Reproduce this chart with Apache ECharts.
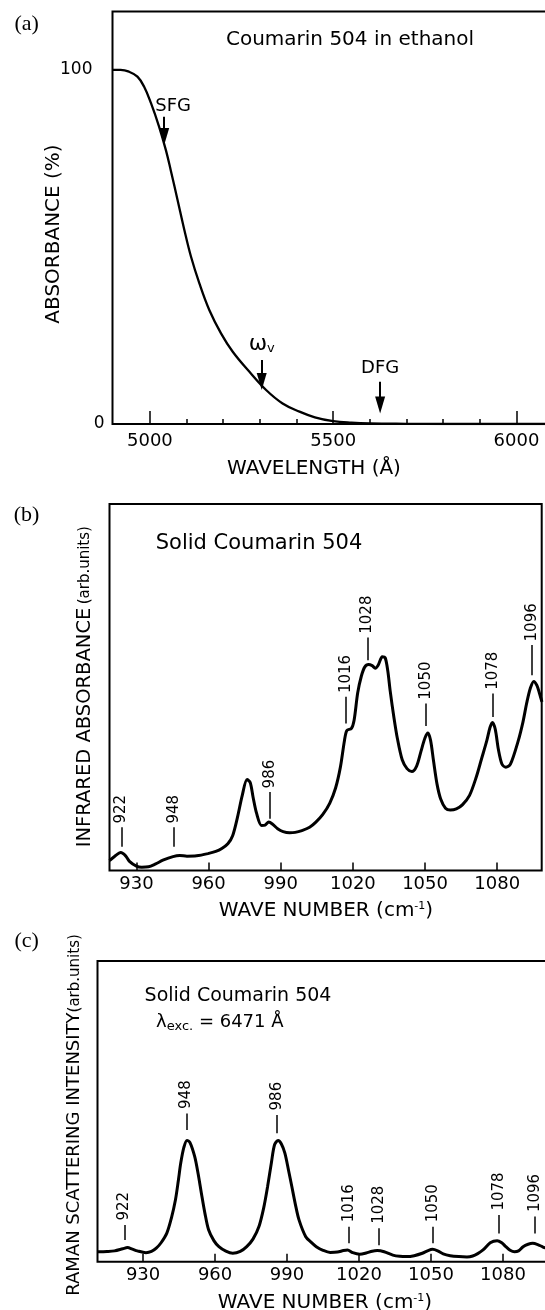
<!DOCTYPE html>
<html>
<head>
<meta charset="utf-8">
<script src="https://cdn.jsdelivr.net/npm/echarts@6/dist/echarts.min.js"></script>
<style>
  html, body { margin: 0; padding: 0; background: #fff; }
  #chart { width: 545px; height: 1310px; }
</style>
</head>
<body>
<div id="chart"></div>
<script>
// (a) absorbance of Coumarin 504 in ethanol
const absWavelength = [4898, 4920, 4943, 4966, 4984, 5003, 5025, 5044, 5057, 5075, 5094, 5112, 5135, 5162,
  5194, 5226, 5271, 5317, 5362, 5408, 5450, 5500, 5550, 5600, 5700, 5800, 6000, 6105];
const absPercent = [100, 100, 99.5, 98.1, 95.3, 90.6, 84, 77.2, 71.6, 63.5, 54.8, 47.3, 39.7, 32.2,
  25.6, 20.4, 14.8, 9.6, 5.8, 3.5, 1.9, 0.8, 0.35, 0.15, 0.05, 0, 0, 0];
const absMarkers = ['SFG', 'ωv', 'DFG'];
const absMarkerX = [5039, 5305, 5628];
const absMarkerTop = [86.8, 18.1, 11.9];
const absMarkerTip = [78.8, 9.6, 3.0];
const wavelengthMajor = [5000, 5500, 6000];
const wavelengthMinor = [5100, 5200, 5300, 5400, 5600, 5700, 5800, 5900];
const absTicks = [0, 100];

// (b) infrared absorbance, solid
const irWavenumber = [918.8, 921, 923.5, 925.5, 927.1, 930, 932.2, 935, 938, 941, 945.2, 948, 951, 955,
  959.7, 963, 965.5, 968, 970, 972, 974, 976, 977.3, 978.5, 980, 982, 983.5, 985, 986.5, 988.7,
  991, 993.7, 996, 998.8, 1002, 1004.6, 1007.5, 1010.4, 1012.8, 1014.8, 1016.5, 1017.5, 1019.4, 1020.5,
  1022, 1023.5, 1024.9, 1026.5, 1028, 1029.3, 1030.5, 1032.2, 1033.4, 1034.5, 1035.5, 1037, 1038.5,
  1040.5, 1042.5, 1044.5, 1046.5, 1048.3, 1050, 1051.2, 1052.3, 1053.5, 1055, 1056.5, 1058.5, 1060.5,
  1063, 1065.5, 1068.5, 1071.3, 1073.5, 1075.7, 1077, 1078, 1079.2, 1080.5, 1082, 1083.6, 1085.5,
  1088.7, 1090.7, 1092.3, 1093.8, 1095.2, 1096.5, 1097.5, 1098.6];
const irAbsorbance = [2.7, 3.9, 4.9, 4.0, 2.5, 1.2, 0.9, 1.0, 1.8, 2.8, 3.8, 4.1, 3.9, 4.0,
  4.6, 5.2, 6.0, 7.3, 9.5, 14.5, 20.5, 24.8, 24.0, 20, 15.5, 12.3, 12.4, 13.2, 12.7, 11.4,
  10.6, 10.3, 10.4, 10.9, 11.8, 13.2, 15.3, 18.4, 22.5, 28.2, 35.5, 38.2, 38.8, 41,
  48.5, 53, 55.5, 56.2, 55.9, 55.2, 56, 58.3, 58.1, 54.5, 49, 42, 36,
  30.2, 27.8, 27.0, 28.5, 32.5, 36.2, 37.5, 35.5, 30, 23.5, 19.5, 17, 16.5,
  16.8, 17.9, 20.5, 25.5, 30.5, 35.5, 39, 40.4, 38.5, 33, 29, 28.2, 29,
  35.3, 40.5, 45.8, 49.8, 51.6, 50.5, 48.5, 46];

// (c) Raman scattering, solid, 6471 A excitation
const ramanWavenumber = [911, 915, 918.1, 921.5, 923.5, 925.5, 927.6, 931.2, 933.5, 935.5, 937.5, 939.9,
  941.8, 943.5, 944.7, 945.7, 947, 948.3, 949.5, 951.5, 953, 954.3, 955.8, 957.3, 959.5, 961.6, 964.5,
  967.4, 970.5, 973.2, 975.8, 978.3, 980.3, 981.9, 983.5, 984.8, 986.3, 987.6, 989.1, 990.6, 992,
  993.5, 995, 997.8, 1000, 1002.2, 1005, 1008, 1011, 1013.5, 1015.2, 1017.4, 1020.3, 1023, 1025.5,
  1027.6, 1030.5, 1034.1, 1037, 1039.9, 1043, 1046.4, 1048.8, 1050.7, 1052.8, 1055.1, 1058, 1061.6,
  1065, 1067.4, 1069.5, 1071.7, 1074.7, 1077.6, 1079.5, 1081.2, 1083, 1084.8, 1086.5, 1088.4, 1090.5,
  1092.4, 1094.5, 1096.4, 1098.5, 1101.7];
const ramanIntensity = [3.3, 3.4, 3.6, 4.3, 4.7, 4.2, 3.6, 3.0, 3.4, 4.5, 6.3, 9.5,
  14.5, 20.6, 27, 32.8, 38, 40.3, 39.7, 35, 29, 22.8, 16, 10.6, 7, 5, 3.5,
  2.8, 3.4, 5, 7.5, 11.7, 18, 25, 33, 38.9, 40.3, 39.2, 36.1, 30.5, 25,
  19, 13.9, 8.3, 6.5, 5, 3.8, 3.1, 3.2, 3.7, 3.9, 3.0, 2.5, 2.9, 3.5,
  3.7, 3.3, 2.2, 1.8, 1.7, 2.0, 2.8, 3.7, 4.1, 3.6, 2.6, 2.0, 1.7,
  1.6, 1.9, 2.7, 3.9, 6.3, 7.0, 6.3, 5.0, 3.8, 3.3, 3.6, 5.0, 5.8,
  6.1, 5.7, 5.0, 4.4, 4.0];

// peak assignments (same set in both spectra)
const peakLabels = ['922', '948', '986', '1016', '1028', '1050', '1078', '1096'];
const irPeakX = [923.7, 945.5, 985.4, 1017.2, 1026, 1050.3, 1078.3, 1094.4];
const irPeakLow = [6.5, 6.5, 14.1, 40.1, 57.4, 39.4, 41.9, 53.3];
const irPeakHigh = [11.8, 11.8, 21.4, 47.4, 63.6, 45.6, 48.3, 61.5];
const ramanPeakX = [922.2, 948.1, 985.8, 1015.7, 1028.3, 1050.7, 1078.3, 1093.3];
const ramanPeakLow = [7.2, 43.8, 42.7, 6.1, 5.5, 6.1, 9.4, 9.4];
const ramanPeakHigh = [12.2, 49.3, 48.8, 11.6, 11.1, 11.6, 15.5, 15];
const wavenumberTicks = [930, 960, 990, 1020, 1050, 1080];

const FONT = 'DejaVu Sans';
const SERIF = 'Liberation Serif';
const INK = '#000';

const zip = (xs, ys) => xs.map((x, i) => [x, ys[i]]);
const plain = v => String(v);
// the SFG caption sits a little right of / closer to its arrow
const markerLabelOffset = { SFG: [9, 4] };

// panel (a) geometry: the triangle head is centred on the line end, so pull the end
// back by half a head length to leave the tip on the read-off value
const A_HEIGHT = 412.5;
const A_YMAX = 116.5;
const HEAD = [10, 17];
const headShift = (HEAD[1] / 2) * A_YMAX / A_HEIGHT;

function peakLines(xs, lows, highs) {
  return xs.map((x, i) => [{ coord: [x, lows[i]] }, { coord: [x, highs[i]] }]);
}

function peakTexts(xs, highs, gap) {
  return peakLabels.map((t, i) => ({ name: t, value: [xs[i], highs[i] + gap] }));
}

function wnAxis(grid, min, max) {
  return {
    type: 'value', gridIndex: grid, min: min, max: max, position: 'bottom',
    axisLine: { show: false },
    splitLine: { show: false },
    axisTick: { inside: true, length: 8, customValues: wavenumberTicks, lineStyle: { color: INK, width: 1.5 } },
    axisLabel: { customValues: wavenumberTicks, formatter: plain, margin: 5, color: INK, fontSize: 18, fontFamily: FONT }
  };
}

function plainY(grid, max) {
  return {
    type: 'value', gridIndex: grid, min: 0, max: max,
    axisLine: { show: false }, axisTick: { show: false }, axisLabel: { show: false }, splitLine: { show: false }
  };
}

function peakSeries(xAxisIndex, yAxisIndex, xs, lows, highs, gap) {
  return {
    type: 'scatter', xAxisIndex: xAxisIndex, yAxisIndex: yAxisIndex,
    symbolSize: 1, itemStyle: { color: 'rgba(0,0,0,0)', opacity: 1 }, silent: true,
    data: peakTexts(xs, highs, gap),
    label: {
      show: true, position: 'inside', rotate: 90, align: 'left', verticalAlign: 'middle',
      formatter: p => p.name, color: INK, opacity: 1, fontSize: 15, fontFamily: FONT, textBorderWidth: 0
    },
    markLine: {
      silent: true, symbol: ['none', 'none'], animation: false,
      label: { show: false },
      lineStyle: { color: INK, width: 1.5, type: 'solid', opacity: 1 },
      data: peakLines(xs, lows, highs)
    }
  };
}

const option = {
  animation: false,
  backgroundColor: '#fff',
  grid: [
    // panels (a) and (c) run off the right edge of the page
    { left: 112.5, top: 11.5, width: 442.5, height: A_HEIGHT, outerBoundsMode: 'none', show: true, borderColor: INK, borderWidth: 2 },
    { left: 109.5, top: 504, width: 432.2, height: 366.5, outerBoundsMode: 'none', show: true, borderColor: INK, borderWidth: 2 },
    { left: 97.5, top: 961, width: 457.5, height: 300.7, outerBoundsMode: 'none', show: true, borderColor: INK, borderWidth: 2 }
  ],
  xAxis: [
    {
      type: 'value', gridIndex: 0, min: 4898, max: 6105, position: 'bottom',
      axisLine: { show: false }, splitLine: { show: false },
      axisTick: { inside: true, length: 13, customValues: wavelengthMajor, lineStyle: { color: INK, width: 1.5 } },
      axisLabel: { customValues: wavelengthMajor, formatter: plain, margin: 8, color: INK, fontSize: 18, fontFamily: FONT }
    },
    {
      type: 'value', gridIndex: 0, min: 4898, max: 6105, position: 'bottom',
      axisLine: { show: false }, splitLine: { show: false },
      axisTick: { inside: true, length: 5, customValues: wavelengthMinor, lineStyle: { color: INK, width: 1.5 } },
      axisLabel: { show: false }
    },
    wnAxis(1, 918.8, 1098.5),
    wnAxis(2, 911, 1101.7)
  ],
  yAxis: [
    {
      type: 'value', gridIndex: 0, min: 0, max: A_YMAX,
      axisLine: { show: false }, axisTick: { show: false }, splitLine: { show: false },
      axisLabel: {
        customValues: absTicks, margin: 8, color: INK, fontSize: 17, fontFamily: FONT,
        formatter: v => (v === 100 ? '{p|100}' : String(v)),
        rich: { p: { padding: [0, 12, 0, 0], fontSize: 17, fontFamily: FONT, color: INK } }
      }
    },
    plainY(1, 100),
    plainY(2, 100)
  ],
  series: [
    {
      type: 'line', xAxisIndex: 0, yAxisIndex: 0, data: zip(absWavelength, absPercent),
      smooth: 0.4, showSymbol: false, symbol: 'none',
      lineStyle: { color: INK, width: 2.3 },
      markLine: {
        silent: true, animation: false,
        lineStyle: { color: INK, width: 2, type: 'solid' },
        label: {
          show: true, position: 'start', distance: 5, color: INK, fontSize: 18, fontFamily: FONT,
          formatter: p => (p.name === 'ωv' ? '{w|ω}{s|v}' : p.name),
          rich: {
            w: { fontSize: 22, fontFamily: FONT, color: INK },
            s: { fontSize: 13, fontFamily: FONT, color: INK, padding: [9, 0, 0, 0] }
          }
        },
        data: absMarkers.map((m, i) => [
          {
            name: m, coord: [absMarkerX[i], absMarkerTop[i]], symbol: 'none',
            label: { offset: markerLabelOffset[m] || [0, 0] }
          },
          { coord: [absMarkerX[i], absMarkerTip[i] + headShift], symbol: 'triangle', symbolSize: HEAD }
        ])
      }
    },
    {
      type: 'line', xAxisIndex: 2, yAxisIndex: 1, data: zip(irWavenumber, irAbsorbance),
      smooth: 0.3, showSymbol: false, symbol: 'none',
      lineStyle: { color: INK, width: 3 }
    },
    {
      type: 'line', xAxisIndex: 3, yAxisIndex: 2, data: zip(ramanWavenumber, ramanIntensity),
      smooth: 0.3, showSymbol: false, symbol: 'none',
      lineStyle: { color: INK, width: 3 }
    },
    peakSeries(2, 1, irPeakX, irPeakLow, irPeakHigh, 1.0),
    peakSeries(3, 2, ramanPeakX, ramanPeakLow, ramanPeakHigh, 1.5)
  ],
  graphic: [
    { type: 'text', x: 26.6, y: 24, style: { text: '(a)', fill: INK, fontSize: 22, fontFamily: SERIF, align: 'center', verticalAlign: 'middle' } },
    { type: 'text', x: 26.6, y: 515, style: { text: '(b)', fill: INK, fontSize: 22, fontFamily: SERIF, align: 'center', verticalAlign: 'middle' } },
    { type: 'text', x: 26.6, y: 941.7, style: { text: '(c)', fill: INK, fontSize: 22, fontFamily: SERIF, align: 'center', verticalAlign: 'middle' } },
    { type: 'text', x: 350, y: 40, style: { text: 'Coumarin 504 in ethanol', fill: INK, fontSize: 20, fontFamily: FONT, align: 'center', verticalAlign: 'middle' } },
    { type: 'text', x: 54, y: 234, rotation: Math.PI / 2, style: { text: 'ABSORBANCE (%)', fill: INK, fontSize: 20, fontFamily: FONT, align: 'center', verticalAlign: 'middle' } },
    { type: 'text', x: 314, y: 468.3, style: { text: 'WAVELENGTH (Å)', fill: INK, fontSize: 20, fontFamily: FONT, align: 'center', verticalAlign: 'middle' } },
    { type: 'text', x: 259, y: 544, style: { text: 'Solid Coumarin 504', fill: INK, fontSize: 21, fontFamily: FONT, align: 'center', verticalAlign: 'middle' } },
    {
      type: 'text', x: 85.2, y: 686.7, rotation: Math.PI / 2,
      style: {
        text: '{m|INFRARED ABSORBANCE} {s|(arb.units)}', fill: INK, align: 'center', verticalAlign: 'middle',
        rich: { m: { fontSize: 19.5, fontFamily: FONT, fill: INK }, s: { fontSize: 15, fontFamily: FONT, fill: INK } }
      }
    },
    {
      type: 'text', x: 326, y: 911,
      style: {
        text: '{m|WAVE NUMBER (cm}{u|-1}{m|)}', fill: INK, align: 'center', verticalAlign: 'middle',
        rich: { m: { fontSize: 20, fontFamily: FONT, fill: INK }, u: { fontSize: 11, fontFamily: FONT, fill: INK, padding: [0, 0, 10, 0] } }
      }
    },
    { type: 'text', x: 238, y: 996, style: { text: 'Solid Coumarin 504', fill: INK, fontSize: 19, fontFamily: FONT, align: 'center', verticalAlign: 'middle' } },
    {
      type: 'text', x: 156, y: 1022,
      style: {
        text: '{l|λ}{e|exc.}{m| = 6471 Å}', fill: INK, align: 'left', verticalAlign: 'middle',
        rich: {
          l: { fontSize: 18, fontFamily: FONT, fill: INK },
          e: { fontSize: 13, fontFamily: FONT, fill: INK, padding: [9, 0, 0, 0] },
          m: { fontSize: 18, fontFamily: FONT, fill: INK }
        }
      }
    },
    {
      type: 'text', x: 74.7, y: 1115, rotation: Math.PI / 2,
      style: {
        text: '{m|RAMAN SCATTERING INTENSITY}{s|(arb.units)}', fill: INK, align: 'center', verticalAlign: 'middle',
        rich: { m: { fontSize: 18, fontFamily: FONT, fill: INK }, s: { fontSize: 15, fontFamily: FONT, fill: INK } }
      }
    },
    {
      type: 'text', x: 325, y: 1303,
      style: {
        text: '{m|WAVE NUMBER (cm}{u|-1}{m|)}', fill: INK, align: 'center', verticalAlign: 'middle',
        rich: { m: { fontSize: 20, fontFamily: FONT, fill: INK }, u: { fontSize: 11, fontFamily: FONT, fill: INK, padding: [0, 0, 10, 0] } }
      }
    }
  ]
};

const chart = echarts.init(document.getElementById('chart'));
chart.setOption(option);
</script>
</body>
</html>
